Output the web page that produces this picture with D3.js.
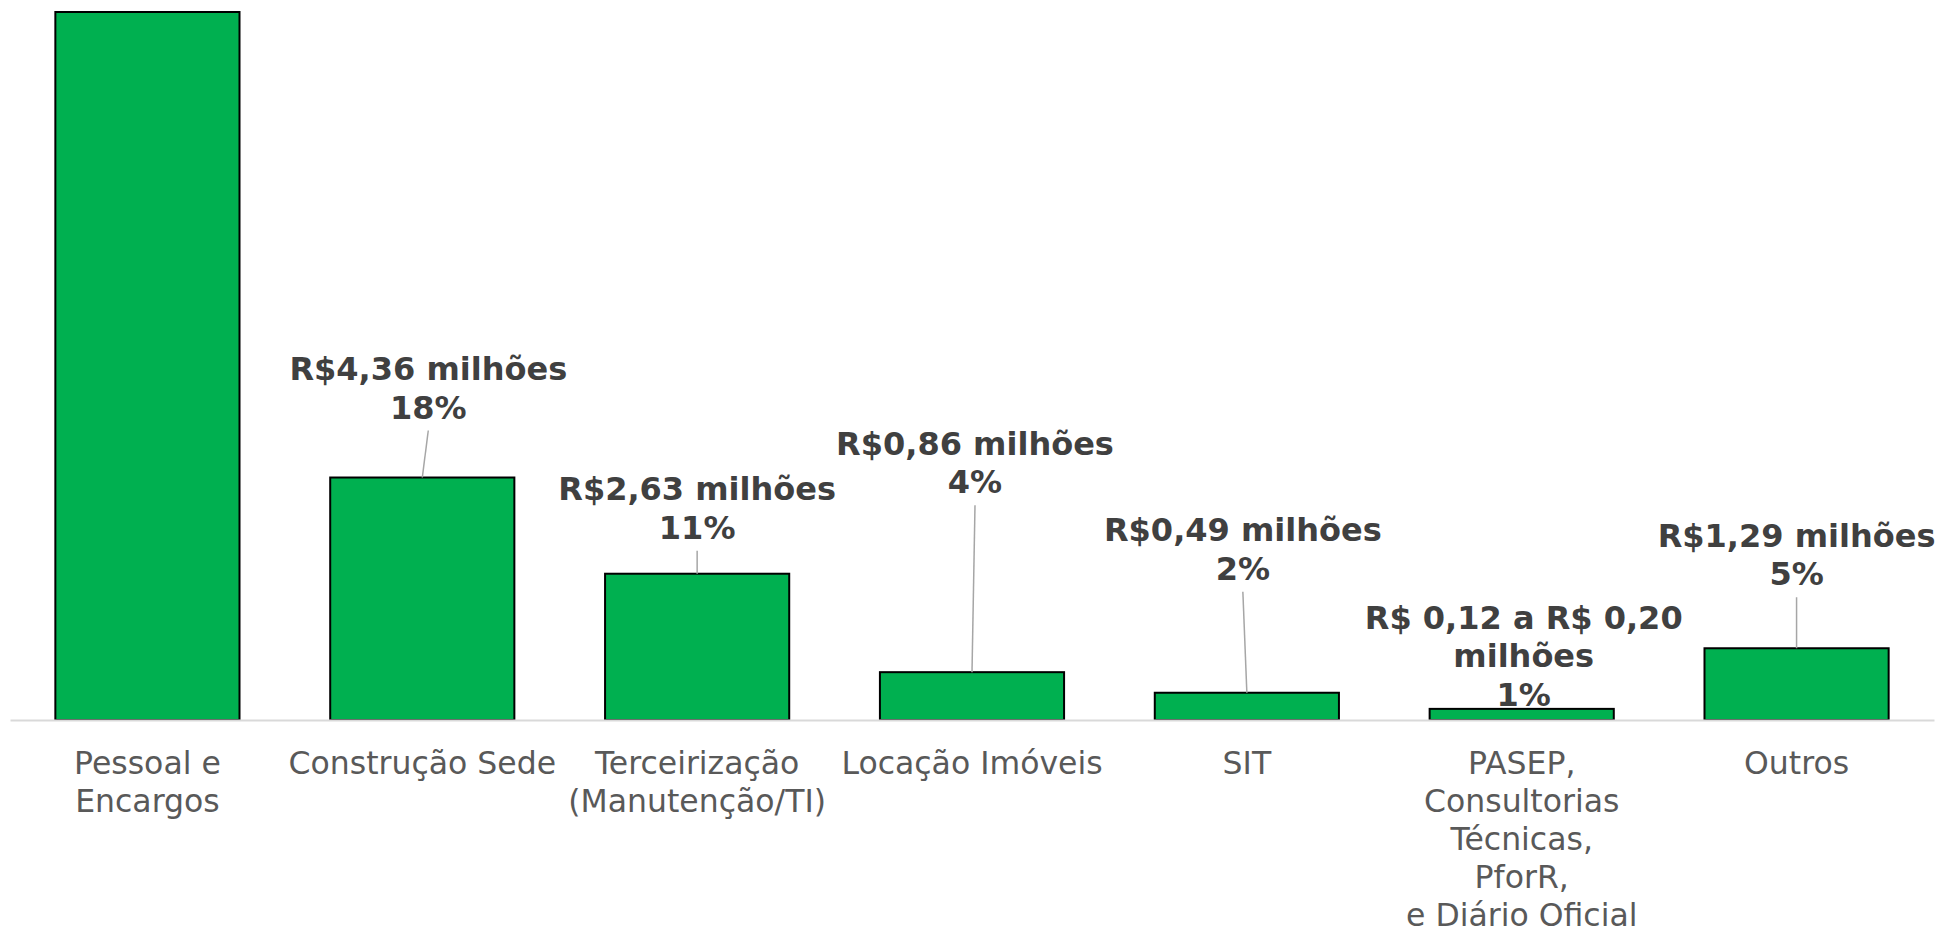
<!DOCTYPE html>
<meta charset="utf-8">
<style>
	body { margin: 0; background: #fff; }
	.bar { fill: #00b050; stroke: #000; stroke-width: 2; }
	.axis path { stroke: #d9d9d9; stroke-width: 2; }
	.axis line { display: none; }
	.axis text { font-family: "DejaVu Sans", Verdana, sans-serif; font-size: 31.5px; fill: #595959; }
	.label { font-family: "DejaVu Sans", Verdana, sans-serif; font-size: 32px; font-weight: bold; fill: #404040; }
	.leader { stroke: #a6a6a6; stroke-width: 1.5; }
</style>

<svg width="1941" height="933"></svg>
<script src="https://d3js.org/d3.v7.min.js"></script>

<script>
	// data
	var categories = ["Pessoal e Encargos", "Construção Sede", "Terceirização (Manutenção/TI)",
	    "Locação Imóveis", "SIT", "PASEP, Consultorias Técnicas, PforR, e Diário Oficial", "Outros"];
	var categoryLines = [
	    ["Pessoal e", "Encargos"],
	    ["Construção Sede"],
	    ["Terceirização", "(Manutenção/TI)"],
	    ["Locação Imóveis"],
	    ["SIT"],
	    ["PASEP,", "Consultorias", "Técnicas,", "PforR,", "e Diário Oficial"],
	    ["Outros"]
	];
	var values = [12.73, 4.36, 2.63, 0.86, 0.49, 0.20, 1.29]; // R$ milhões
	var valueLabels = [
	    null,
	    ["R$4,36 milhões", "18%"],
	    ["R$2,63 milhões", "11%"],
	    ["R$0,86 milhões", "4%"],
	    ["R$0,49 milhões", "2%"],
	    ["R$ 0,12 a R$ 0,20", "milhões", "1%"],
	    ["R$1,29 milhões", "5%"]
	];

	// label placement (px): lift of last line above bar top, horizontal shift
	var labelLift = [0, 59, 35, 179, 113, 3, 63];
	var labelShift = [0, 6, 0, 3, -4, 2, 0];
	var lineHeight = 38.5,
	    catLineHeight = 38;

	var svg = d3.select("svg"),
	    baseline = 720;

	var x = d3.scaleBand()
	    .domain(categories)
	    .range([10, 1934])
	    .paddingInner(0.33)
	    .paddingOuter(0.165);

	var y = d3.scaleLinear()
	    .domain([0, d3.max(values)])
	    .range([baseline, 12]);

	var data = categories.map(function(c, i) { return {cat: c, value: values[i], i: i}; });

	// bars
	svg.selectAll(".bar")
	    .data(data)
	  .enter().append("rect")
	    .attr("class", "bar")
	    .attr("x", function(d) { return x(d.cat); })
	    .attr("y", function(d) { return y(d.value); })
	    .attr("width", x.bandwidth())
	    .attr("height", function(d) { return baseline - y(d.value); });

	// x axis
	var axis = svg.append("g")
	    .attr("class", "axis")
	    .attr("transform", "translate(0," + baseline + ")")
	    .call(d3.axisBottom(x).tickSize(0).tickSizeOuter(0).tickFormat(""));

	axis.selectAll(".tick text").remove();
	axis.selectAll(".tick").each(function(c, i) {
	  var t = d3.select(this).append("text")
	      .attr("text-anchor", "middle")
	      .attr("y", 54);
	  categoryLines[i].forEach(function(s, k) {
	    t.append("tspan").attr("x", 0).attr("dy", k === 0 ? 0 : catLineHeight).text(s);
	  });
	});

	// data labels with leader lines
	data.forEach(function(d) {
	  var lines = valueLabels[d.i];
	  if (!lines) return;
	  var cx = x(d.cat) + x.bandwidth() / 2,
	      top = y(d.value),
	      lastBase = top - labelLift[d.i],
	      lx = cx + labelShift[d.i];

	  if (labelLift[d.i] > 20) {
	    svg.append("line")
	        .attr("class", "leader")
	        .attr("x1", lx).attr("y1", lastBase + 12)
	        .attr("x2", cx).attr("y2", top);
	  }

	  var t = svg.append("text")
	      .attr("class", "label")
	      .attr("text-anchor", "middle")
	      .attr("y", lastBase - (lines.length - 1) * lineHeight);
	  lines.forEach(function(s, k) {
	    t.append("tspan").attr("x", lx).attr("dy", k === 0 ? 0 : lineHeight).text(s);
	  });
	});
</script>
